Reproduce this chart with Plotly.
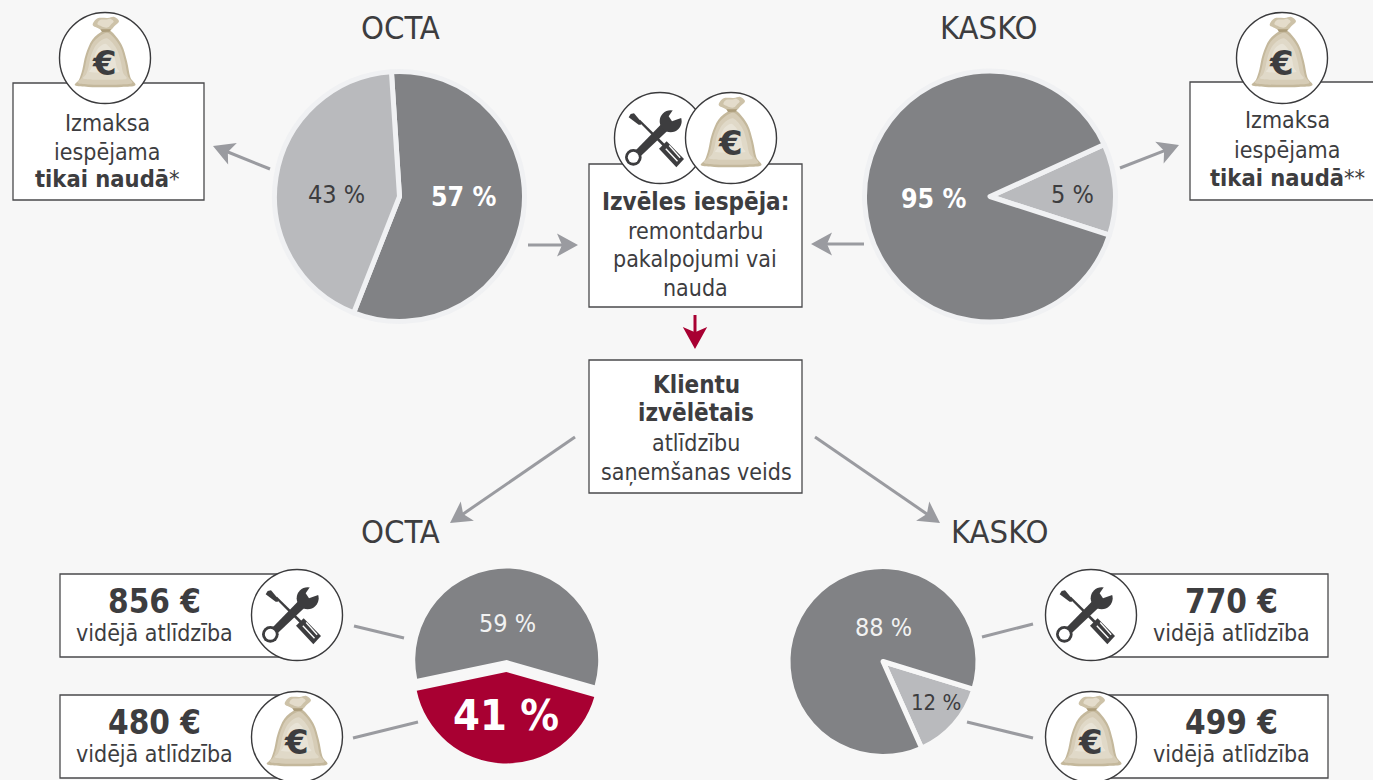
import plotly.graph_objects as go

W, H = 1373, 780
BG = "#f7f7f7"
INK = "#3d3d3f"
DARK = "#818285"
LIGHT = "#b9babd"
RED = "#a80032"
ARROW = "#9a9ba0"
FONT = "DejaVu Sans Condensed"

# Pie data: label text and the share each slice is drawn with in the picture
octa_top_labels = ["57 %", "43 %"]
octa_top_shares = [57, 43]
kasko_top_labels = ["5 %", "95 %"]
kasko_top_shares = [11.8, 88.2]
octa_bottom_labels = ["59 %", "41 %"]
octa_bottom_shares = [57.7, 42.3]
kasko_bottom_labels = ["12 %", "88 %"]
kasko_bottom_shares = [13.6, 86.4]

titles = ["OCTA", "KASKO", "OCTA", "KASKO"]
amounts = ["856 €", "480 €", "770 €", "499 €"]
amount_caption = "vidējā atlīdzība"

shapes, notes = [], []


def text(x, y, s, size=23, color=INK, bold=False):
    notes.append(dict(x=x, y=y, xref="x", yref="y", text=f"<b>{s}</b>" if bold else s,
                      showarrow=False, xanchor="center", yanchor="middle",
                      font=dict(family=FONT, size=size, color=color)))


def poly(pts, fill, line=None, lw=0):
    p = "M" + " L".join(f"{x:.2f},{y:.2f}" for x, y in pts) + " Z"
    shapes.append(dict(type="path", path=p, xref="x", yref="y", fillcolor=fill,
                       line=dict(color=line or fill, width=lw)))


def smooth(pts, fill):
    n = len(pts)
    p = f"M{pts[0][0]:.2f},{pts[0][1]:.2f}"
    for i in range(n):
        a, b, c, d = pts[i - 1], pts[i], pts[(i + 1) % n], pts[(i + 2) % n]
        c1 = (b[0] + (c[0] - a[0]) / 6, b[1] + (c[1] - a[1]) / 6)
        c2 = (c[0] - (d[0] - b[0]) / 6, c[1] - (d[1] - b[1]) / 6)
        p += f" C{c1[0]:.2f},{c1[1]:.2f} {c2[0]:.2f},{c2[1]:.2f} {c[0]:.2f},{c[1]:.2f}"
    shapes.append(dict(type="path", path=p + " Z", xref="x", yref="y", fillcolor=fill,
                       line=dict(width=0)))


def circle(cx, cy, r, fill, line=None, lw=0):
    shapes.append(dict(type="circle", x0=cx - r, x1=cx + r, y0=cy - r, y1=cy + r, xref="x", yref="y",
                       fillcolor=fill, line=dict(color=line or fill, width=lw)))


def segment(x0, y0, x1, y1, color, width):
    shapes.append(dict(type="line", x0=x0, y0=y0, x1=x1, y1=y1, xref="x", yref="y",
                       line=dict(color=color, width=width)))


def box(x0, y0, x1, y1):
    shapes.append(dict(type="rect", x0=x0, y0=y0, x1=x1, y1=y1, xref="x", yref="y",
                       fillcolor="white", line=dict(color="#4a4a4c", width=1.3)))


def arrow(x0, y0, x1, y1, color=ARROW, width=3, size=20):
    dx, dy = x1 - x0, y1 - y0
    L = (dx * dx + dy * dy) ** 0.5
    ux, uy = dx / L, dy / L
    nx, ny = -uy, ux
    segment(x0, y0, x1 - ux * size * 0.6, y1 - uy * size * 0.6, color, width)
    poly([(x1, y1),
          (x1 - ux * size * 1.05 + nx * size * 0.58, y1 - uy * size * 1.05 + ny * size * 0.58),
          (x1 - ux * size * 0.8, y1 - uy * size * 0.8),
          (x1 - ux * size * 1.05 - nx * size * 0.58, y1 - uy * size * 1.05 - ny * size * 0.58)], color)


BAG_BODY = [(145, 68), (112, 95), (92, 140), (82, 185), (72, 215), (60, 232), (100, 237), (150, 238),
            (200, 237), (241, 232), (226, 208), (216, 160), (200, 110), (168, 70)]
BAG_TOP = [(113, 50), (128, 31), (158, 30), (178, 27), (192, 40), (178, 55), (165, 68), (145, 68), (128, 60)]


def bag(cx, cy, r=45.5):
    circle(cx, cy, r, "white", "#3a3a3c", 1.4)
    s = r / 136.5
    t = lambda pts, k=1.0, mx=150, my=150: [(cx + (mx + (x - mx) * k - 150) * s, cy + (my + (y - my) * k - 150) * s)
                                            for x, y in pts]
    smooth(t(BAG_BODY), "#c4b89c")
    smooth(t(BAG_BODY, 0.9, 150, 160), "#d6ccb6")
    smooth(t(BAG_BODY, 0.72, 148, 158), "#e0d9c8")
    smooth(t(BAG_BODY, 0.5, 145, 150), "#e8e3d6")
    smooth(t(BAG_TOP), "#cdc2a8")
    smooth(t(BAG_TOP, 0.62, 150, 42), "#e4dccb")
    poly(t([(136, 64), (168, 64), (164, 71), (141, 72)]), "#ac9d7b")
    notes.append(dict(x=cx - 0.5, y=cy + 5, xref="x", yref="y", text="<b>€</b>", showarrow=False,
                      font=dict(family="DejaVu Sans", size=34 * r / 45.5, color=INK)))


def tools(cx, cy, r=45.5):
    circle(cx, cy, r, "white", "#3a3a3c", 1.4)
    s = r / 136.5
    t = lambda pts: [(cx + (x - 150) * s, cy + (y - 150) * s) for x, y in pts]
    tool = "#3d3d3f"
    # screwdriver blade and tip
    poly(t([(85, 100), (90, 95), (168, 172), (162, 178)]), tool)
    poly(t([(56, 88), (62, 78), (72, 76), (96, 104), (92, 110), (86, 110)]), tool)
    # screwdriver handle with slits
    poly(t([(147, 182), (170, 160), (222, 213), (199, 238)]), tool)
    poly(t([(166, 184), (169, 181), (204, 218), (201, 221)]), "white")
    poly(t([(176, 174), (179, 171), (212, 208), (209, 211)]), "white")
    # wrench shaft
    poly(t([(67, 197), (155, 107), (178, 123), (83, 213)]), tool)
    # ring end
    circle(*t([(70, 208)])[0], 25 * s, tool)
    circle(*t([(70, 208)])[0], 16.5 * s, "white")
    # open head
    circle(*t([(182, 100)])[0], 33 * s, tool)
    poly(t([(193, 60), (176, 85), (186, 100), (222, 87), (225, 60)]), "white")


# ---- frame boxes
box(13, 83, 204, 200)
box(1190, 82, 1380, 200)
box(589, 164, 802, 307)
box(589, 360, 802, 493)
box(60, 574, 290, 657)
box(60, 695, 290, 778)
box(1100, 574, 1328, 657)
box(1100, 695, 1328, 778)

# ---- icons
bag(105, 58)
bag(1282, 58)
tools(660, 138)
bag(731, 138)
tools(297, 615)
bag(297, 737)
tools(1091, 615)
bag(1091, 737)

# ---- connectors
arrow(270, 169, 213, 146)
arrow(1120, 168, 1179, 145)
arrow(528, 245, 578, 245)
arrow(864, 244, 811, 244)
arrow(695, 315, 695, 349, RED, 3, 21)
arrow(575, 437, 450, 523)
arrow(815, 437, 940, 523)
segment(354, 626, 404, 638, ARROW, 3)
segment(353, 738, 418, 722, ARROW, 3)
segment(982, 637, 1033, 624, ARROW, 3)
segment(967, 722, 1033, 738, ARROW, 3)

# ---- titles
text(400, 28, titles[0], 32.5)
text(989, 28, titles[1], 32.5)
text(400, 532, titles[2], 32.5)
text(1000, 532, titles[3], 32.5)

# ---- box texts
text(107, 123, "Izmaksa")
text(107, 152, "iespējama")
text(107, 179, "<b>tikai naudā</b>*", 23.5)
text(1287, 120, "Izmaksa")
text(1287, 150, "iespējama")
text(1287, 178, "<b>tikai naudā</b>**", 23.5)
text(695, 202, "Izvēles iespēja:", 24, bold=True)
text(695, 231, "remontdarbu")
text(695, 259, "pakalpojumi vai")
text(695, 288, "nauda")
text(696, 385, "Klientu", 24, bold=True)
text(696, 413, "izvēlētais", 24, bold=True)
text(696, 443, "atlīdzību")
text(696, 472, "saņemšanas veids")
for x, y, amount in zip([154, 154, 1231, 1231], [601, 722, 601, 722], amounts):
    text(x, y, amount, 33, bold=True)
    text(x, y + 32, amount_caption)

# ---- pie labels
text(336, 194, octa_top_labels[1], 25)
text(463, 196, octa_top_labels[0], 26.5, "white", True)
text(1072, 194, kasko_top_labels[0], 25)
text(933, 198, kasko_top_labels[1], 26.5, "white", True)
text(507, 623, octa_bottom_labels[0], 25, "#f2f2f2")
text(506, 715, octa_bottom_labels[1], 43, "white", True)
text(936, 702, kasko_bottom_labels[0], 22)
text(883, 627, kasko_bottom_labels[1], 25, "#f2f2f2")


def pie(cx, cy, r, shares, colors, rotation, line=None, lw=0, pull=0.0):
    R = r * (1 + pull)
    return go.Pie(values=shares, sort=False, direction="clockwise", rotation=rotation,
                  marker=dict(colors=colors, line=dict(color=line or BG, width=lw)),
                  pull=pull, textinfo="none", hoverinfo="skip", showlegend=False,
                  domain=dict(x=[(cx - R) / W, (cx + R) / W], y=[1 - (cy + R) / H, 1 - (cy - R) / H]))


fig = go.Figure()
fig.add_trace(go.Scatter(x=[0, W], y=[0, H], mode="markers", marker=dict(opacity=0), hoverinfo="skip", showlegend=False))
fig.add_trace(pie(399.5, 196.5, 125, octa_top_shares, [DARK, LIGHT], -3.7, "#f0f1f3", 5))
fig.add_trace(pie(990, 196.5, 125.5, kasko_top_shares, [LIGHT, DARK], 65.5, "#f0f1f3", 5))
fig.add_trace(pie(506.5, 666, 91.5, octa_bottom_shares, [DARK, RED], -101.8, pull=0.065))
fig.add_trace(pie(883, 661.5, 95, kasko_bottom_shares, [LIGHT, DARK], 107, BG, 5))

fig.update_layout(width=W, height=H, paper_bgcolor=BG, plot_bgcolor=BG, margin=dict(l=0, r=0, t=0, b=0),
                  xaxis=dict(range=[0, W], visible=False, fixedrange=True),
                  yaxis=dict(range=[H, 0], visible=False, fixedrange=True),
                  shapes=shapes, annotations=notes, showlegend=False,
                  font=dict(family=FONT, color=INK))
fig.write_html("out.html", config=dict(displayModeBar=False),
               post_script="document.body.style.margin='0';document.body.style.overflow='hidden';document.body.style.background='#f7f7f7';")
